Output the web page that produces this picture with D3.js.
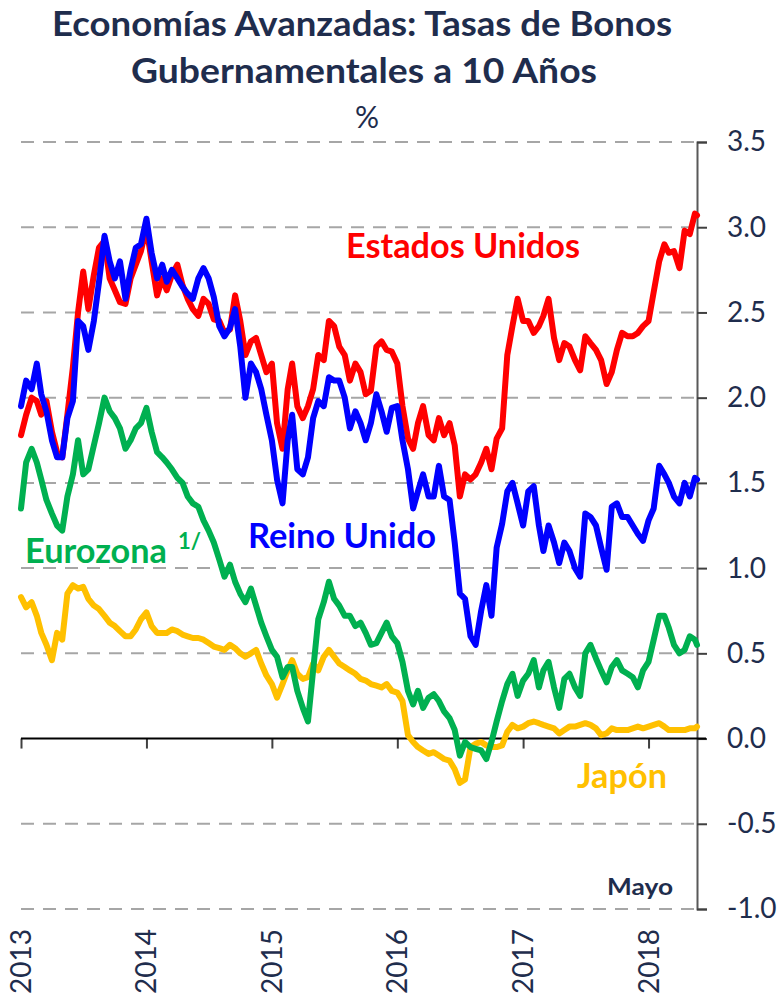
<!doctype html>
<html lang="es">
  <head>
    <meta charset="utf-8">
    <title>Tasas de Bonos Gubernamentales a 10 Años</title>
    <script src="https://d3js.org/d3.v7.min.js"></script>
    <style>
      body { margin: 0; background: #fff; }
      text { font-family: Lato, "Open Sans", sans-serif; }
    </style>
  </head>

  <body>
    <svg width="781" height="1001"></svg>

    <script>
      // semimonthly readings (1st and 16th of each month), last one = 22 May 2018
      var estadosUnidos = [
        1.78,1.90,2.00,1.98,1.90,1.98,1.80,1.68,1.65,1.90,2.18,2.50,2.74,2.52,2.72,2.88,2.92,2.70,2.63,2.56,2.55,2.70,2.78,2.86,
        3.00,2.80,2.60,2.70,2.63,2.72,2.78,2.66,2.58,2.52,2.48,2.58,2.55,2.46,2.45,2.38,2.40,2.60,2.45,2.25,2.33,2.35,2.25,2.15,
        2.20,1.85,1.70,2.05,2.20,1.95,1.88,1.95,2.05,2.25,2.22,2.45,2.42,2.30,2.25,2.10,2.20,2.15,2.02,2.04,2.30,2.33,2.28,2.27,
        2.20,1.95,1.76,1.70,1.85,1.95,1.78,1.75,1.88,1.78,1.85,1.72,1.42,1.55,1.52,1.55,1.62,1.70,1.58,1.76,1.82,2.25,2.42,2.58,
        2.45,2.45,2.38,2.42,2.48,2.58,2.35,2.22,2.32,2.30,2.22,2.16,2.36,2.32,2.28,2.22,2.08,2.15,2.28,2.38,2.36,2.36,2.38,2.42,
        2.45,2.62,2.80,2.90,2.85,2.86,2.76,2.98,2.96,3.08,3.07
      ];
      var reinoUnido = [
        1.95,2.10,2.05,2.20,2.02,1.92,1.75,1.65,1.65,1.88,1.98,2.45,2.42,2.28,2.45,2.68,2.95,2.80,2.70,2.80,2.58,2.75,2.88,2.90,
        3.05,2.85,2.70,2.78,2.68,2.75,2.70,2.65,2.61,2.58,2.70,2.76,2.70,2.59,2.42,2.36,2.41,2.52,2.30,2.00,2.20,2.15,2.05,1.90,
        1.75,1.52,1.38,1.75,1.90,1.58,1.55,1.65,1.88,1.98,1.95,2.12,2.10,2.10,2.00,1.82,1.92,1.85,1.75,1.85,2.02,1.92,1.80,1.94,
        1.95,1.75,1.58,1.35,1.45,1.55,1.42,1.42,1.60,1.42,1.40,1.15,0.85,0.82,0.60,0.55,0.75,0.90,0.72,1.12,1.26,1.45,1.50,1.38,
        1.25,1.45,1.48,1.25,1.10,1.25,1.15,1.03,1.15,1.10,1.00,0.95,1.32,1.30,1.25,1.12,0.99,1.36,1.38,1.30,1.30,1.25,1.20,1.16,
        1.28,1.35,1.60,1.55,1.50,1.42,1.38,1.50,1.42,1.53,1.52
      ];
      var eurozona = [
        1.35,1.62,1.70,1.62,1.52,1.40,1.32,1.25,1.22,1.42,1.55,1.75,1.55,1.58,1.72,1.85,2.00,1.92,1.88,1.82,1.70,1.75,1.82,1.85,
        1.94,1.80,1.68,1.65,1.62,1.58,1.53,1.50,1.42,1.38,1.36,1.28,1.22,1.15,1.05,0.95,1.02,0.92,0.85,0.80,0.88,0.78,0.68,0.60,
        0.52,0.48,0.36,0.42,0.42,0.28,0.18,0.10,0.40,0.70,0.80,0.92,0.82,0.78,0.72,0.72,0.66,0.68,0.62,0.55,0.56,0.62,0.68,0.60,
        0.56,0.45,0.28,0.20,0.28,0.18,0.24,0.26,0.22,0.16,0.12,0.05,-0.10,-0.02,-0.05,-0.06,-0.07,-0.12,-0.02,0.10,0.22,0.32,0.38,0.25,
        0.34,0.38,0.46,0.30,0.40,0.45,0.30,0.18,0.35,0.38,0.30,0.25,0.50,0.55,0.47,0.40,0.33,0.42,0.46,0.40,0.38,0.36,0.30,0.40,
        0.45,0.58,0.72,0.72,0.65,0.55,0.50,0.52,0.60,0.58,0.55
      ];
      var japon = [
        0.83,0.77,0.80,0.72,0.62,0.55,0.46,0.62,0.58,0.85,0.90,0.88,0.89,0.82,0.78,0.76,0.72,0.68,0.66,0.63,0.60,0.60,0.64,0.70,
        0.74,0.66,0.62,0.62,0.62,0.64,0.63,0.61,0.60,0.59,0.59,0.58,0.56,0.54,0.53,0.52,0.55,0.53,0.50,0.48,0.50,0.52,0.44,0.37,
        0.32,0.24,0.32,0.40,0.46,0.38,0.35,0.36,0.44,0.40,0.48,0.52,0.48,0.44,0.42,0.40,0.38,0.35,0.34,0.32,0.31,0.30,0.32,0.28,
        0.27,0.22,0.02,-0.02,-0.05,-0.07,-0.09,-0.08,-0.10,-0.12,-0.13,-0.18,-0.26,-0.24,-0.05,-0.03,-0.02,-0.04,-0.05,-0.05,-0.04,0.04,0.08,0.06,
        0.07,0.09,0.10,0.09,0.08,0.07,0.06,0.03,0.05,0.07,0.07,0.08,0.09,0.08,0.06,0.02,0.03,0.06,0.05,0.05,0.05,0.06,0.07,0.06,
        0.07,0.08,0.09,0.07,0.05,0.05,0.05,0.05,0.06,0.06,0.07
      ];
      var yTicks = [-1.0, -0.5, 0.0, 0.5, 1.0, 1.5, 2.0, 2.5, 3.0, 3.5];
      var yearTicks = ['2013', '2014', '2015', '2016', '2017', '2018'];

      var startDate = new Date(Date.UTC(2013, 0, 1));
      var endDate = new Date(Date.UTC(2018, 4, 22));

      // sampling grid: 1st and 16th of every month, then the last day shown
      var dates = [];
      d3.utcMonth.range(startDate, new Date(Date.UTC(2018, 5, 1))).forEach(function(m){
        dates.push(m);
        dates.push(d3.utcDay.offset(m, 15));
      });
      dates = dates.slice(0, estadosUnidos.length - 1);
      dates.push(endDate);

      var navy = '#1f2d4d';
      var svg = d3.select('svg');

      var x = d3.scaleUtc().domain([startDate, endDate]).range([21, 697]);
      var y = d3.scaleLinear().domain([-1, 3.5]).range([909, 142]);

      // title
      svg.append('text').attr('x', 362).attr('y', 36).attr('text-anchor', 'middle')
        .attr('textLength', 620).attr('lengthAdjust', 'spacingAndGlyphs')
        .style('font-size', '35px').style('font-weight', 'bold').style('fill', navy)
        .text('Economías Avanzadas: Tasas de Bonos');
      svg.append('text').attr('x', 364).attr('y', 83).attr('text-anchor', 'middle')
        .attr('textLength', 466).attr('lengthAdjust', 'spacingAndGlyphs')
        .style('font-size', '35px').style('font-weight', 'bold').style('fill', navy)
        .text('Gubernamentales a 10 Años');
      svg.append('text').attr('x', 367).attr('y', 128).attr('text-anchor', 'middle')
        .style('font-size', '30px').style('fill', navy).text('%');

      // dashed grid
      svg.append('g').selectAll('line')
        .data(yTicks.filter(function(d){ return d !== 0; }))
        .enter().append('line')
        .attr('x1', 21).attr('x2', 697)
        .attr('y1', function(d){ return y(d); }).attr('y2', function(d){ return y(d); })
        .style('stroke', '#a6a6a6').style('stroke-width', 2).style('stroke-dasharray', '13,9');

      // right axis (plain hyphen for negatives, as in the original)
      var fmt = d3.format('.1f');
      var yAxis = svg.append('g').attr('transform', 'translate(697,0)')
        .call(d3.axisRight(y).tickValues(yTicks).tickSize(10).tickPadding(20)
          .tickFormat(function(d){ return fmt(d).replace('\u2212', '-'); }));
      yAxis.select('.domain').style('stroke', '#595959').style('stroke-width', 2);
      yAxis.selectAll('.tick line').style('stroke', '#404040').style('stroke-width', 2);
      yAxis.selectAll('.tick text').style('font-size', '28px').style('fill', navy)
        .style('font-family', 'Lato, sans-serif');

      // zero line with year ticks
      var xAxis = svg.append('g').attr('transform', 'translate(0,' + y(0) + ')')
        .call(d3.axisBottom(x)
          .tickValues(yearTicks.map(function(d){ return new Date(Date.UTC(+d, 0, 1)); }))
          .tickSize(10).tickSizeOuter(0).tickFormat(''));
      xAxis.select('.domain').remove();
      xAxis.selectAll('.tick line').style('stroke', '#404040').style('stroke-width', 2);
      svg.append('line').attr('x1', 21).attr('x2', 706).attr('y1', y(0)).attr('y2', y(0))
        .style('stroke', '#000').style('stroke-width', 2);

      // rotated year labels
      svg.append('g').selectAll('text').data(yearTicks).enter().append('text')
        .attr('transform', function(d){
          return 'translate(' + (x(new Date(Date.UTC(+d, 0, 1))) + 10) + ',929) rotate(-90)';
        })
        .attr('text-anchor', 'end')
        .style('font-size', '28px').style('fill', navy)
        .text(function(d){ return d; });

      svg.append('text').attr('x', 607).attr('y', 895)
        .attr('textLength', 66).attr('lengthAdjust', 'spacingAndGlyphs')
        .style('font-size', '22px').style('font-weight', 'bold').style('fill', navy).text('Mayo');

      // series
      var line = d3.line()
        .x(function(d, i){ return x(dates[i]); })
        .y(function(d){ return y(d); });

      var series = [
        { values: estadosUnidos, color: '#ff0000' },
        { values: reinoUnido, color: '#0000ff' },
        { values: japon, color: '#ffc000' },
        { values: eurozona, color: '#00b050' }
      ];
      svg.append('g').selectAll('path').data(series).enter().append('path')
        .attr('d', function(d){ return line(d.values); })
        .style('fill', 'none')
        .style('stroke', function(d){ return d.color; })
        .style('stroke-width', 6)
        .style('stroke-linejoin', 'round')
        .style('stroke-linecap', 'round');

      // series labels
      var label = function(txt, px, py, len, color){
        return svg.append('text').attr('x', px).attr('y', py)
          .attr('textLength', len).attr('lengthAdjust', 'spacingAndGlyphs')
          .style('font-size', '34px').style('font-weight', 'bold').style('fill', color)
          .text(txt);
      };
      label('Estados Unidos', 346, 258, 234, '#ff0000');
      label('Reino Unido', 248, 548, 188, '#0000ff');
      label('Eurozona', 25, 563, 142, '#00b050');
      label('Japón', 577, 788, 90, '#ffc000');
      svg.append('text').attr('x', 178).attr('y', 549)
        .style('font-size', '22px').style('font-weight', 'bold').style('fill', '#00b050').text('1/');
    </script>
  </body>
</html>
